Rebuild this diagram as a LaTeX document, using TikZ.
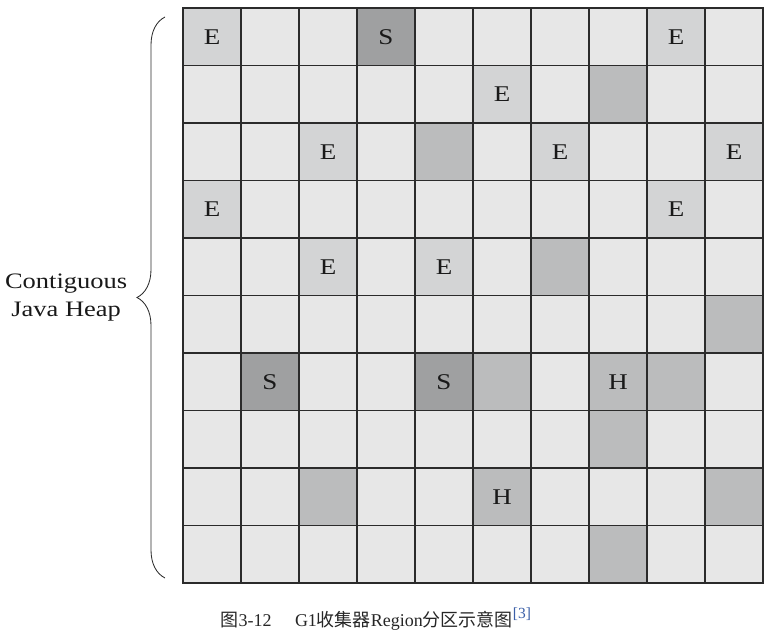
\documentclass[tikz,border=0pt]{standalone}
\usepackage{fontspec}
\setmainfont{Liberation Serif}
\newfontfamily\cellfont{Liberation Serif}[FakeStretch=1.2]
\newfontfamily\cjk{Noto Sans CJK SC}
\usetikzlibrary{positioning, decorations.pathreplacing}
\definecolor{gridline}{HTML}{2B2B2B}
\definecolor{freereg}{HTML}{E7E7E7}
\definecolor{edenreg}{HTML}{D3D4D5}
\definecolor{oldreg}{HTML}{BBBCBD}
\definecolor{survreg}{HTML}{9FA0A1}
\definecolor{citeblue}{HTML}{3B5FA8}

\begin{document}
\begin{tikzpicture}[
  region/.style={draw=gridline, line width=0.9pt, fill=freereg, minimum width=1.45cm, minimum height=1.4375cm,
    inner sep=0pt, text=black!90, font=\cellfont\fontsize{16}{18}\selectfont},
  eden/.style={region, fill=edenreg},
  surv/.style={region, fill=survreg},
  old/.style={region, fill=oldreg},
  heaplabel/.style={align=center, text=black!90, font=\cellfont\fontsize{15.7}{20.5}\selectfont},
]
  \useasboundingbox (-4.575,0.2) rectangle (14.675,-15.65);

  % free regions
  \foreach \r in {0,...,9}
    \foreach \c in {0,...,9}
      \node[region] (r\r c\c) at ({1.45*\c+0.725},{-1.4375*\r-0.71875}) {};

  % used regions
  \foreach \r/\c/\kind/\txt in {0/0/eden/E, 0/3/surv/S, 0/8/eden/E,
      1/5/eden/E, 1/7/old/{},
      2/2/eden/E, 2/4/old/{}, 2/6/eden/E, 2/9/eden/E,
      3/0/eden/E, 3/8/eden/E,
      4/2/eden/E, 4/4/eden/E, 4/6/old/{},
      5/9/old/{},
      6/1/surv/S, 6/4/surv/S, 6/5/old/{}, 6/7/old/H, 6/8/old/{},
      7/7/old/{},
      8/2/old/{}, 8/5/old/H, 8/9/old/{},
      9/7/old/{}}
    \node[\kind] (u\r c\c) at (r\r c\c) {\txt};

  % brace
  \coordinate (brbot) at (-0.45,-14.25);
  \coordinate (brtop) at (-0.45,-0.225);
  \coordinate (brtip) at (-1.15,-7.24);
  \draw[decorate, decoration={brace, amplitude=0.7cm}, gridline, line width=0.6pt] (brbot) -- (brtop);
  \node[heaplabel, left=0.12cm of brtip] (heap) {Contiguous\\Java Heap};

  % caption
  \node[text=black!85, font=\fontsize{12.8}{15}\selectfont] (caption) at (4.82,-15.275)
    {{\cjk 图}3-12\hspace{1.3em}G1{\cjk 收集器}Region{\cjk 分区示意图}\raisebox{0.4em}{\fontsize{11}{13}\selectfont\color{citeblue}[3]}};
\end{tikzpicture}
\end{document}
